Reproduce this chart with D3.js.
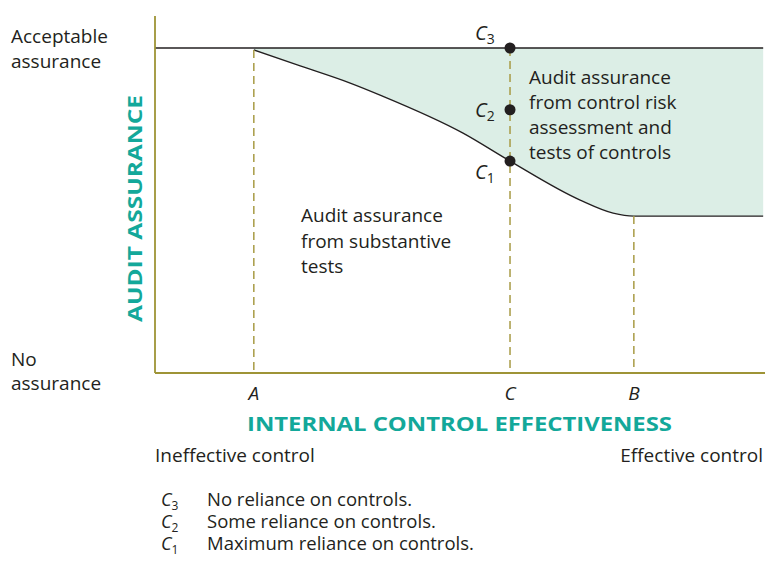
<!DOCTYPE html>
<html>
<head>
<meta charset="utf-8">
<script src="https://cdn.jsdelivr.net/npm/d3@7"></script>
<style>
  body { margin: 0; background: #fff; }
  text { font-family: "Open Sans", sans-serif; fill: #231f20; }
</style>
</head>
<body>
<svg width="765" height="569"></svg>
<script>
// effectiveness (0-100) vs. audit assurance from substantive tests (0-100)
var curveX = [16.2, 23.8, 32, 36.9, 50.5, 58.2, 69.7, 75.1, 78.5, 99.7];
var curveY = [99.4, 94.5, 89.2, 85.5, 73.8, 65.2, 53.2, 49.2, 48.3, 48.3];
var marks = ["A", "C", "B"];
var markX = [16.2, 58.2, 78.5];
var pointNames = ["3", "2", "1"];
var pointY = [100, 81, 65.2];
var legendText = ["No reliance on controls.", "Some reliance on controls.", "Maximum reliance on controls."];

var svg = d3.select("svg");
var teal = "#13a89a", olive = "#9e9436", dash = "#a89b45";
var fs = 19;

var x = d3.scaleLinear().domain([0, 100]).range([155, 765]);
var y = d3.scaleLinear().domain([0, 100]).range([373, 48]);

var pts = curveX.map(function(d, i) { return [d, curveY[i]]; });

// shaded region between the curve and acceptable assurance
var area = d3.area()
    .x(function(d) { return x(d[0]); })
    .y0(y(100))
    .y1(function(d) { return y(d[1]); })
    .curve(d3.curveMonotoneX);
svg.append("path").datum(pts).attr("d", area).attr("fill", "#dceee6");

var line = d3.line()
    .x(function(d) { return x(d[0]); })
    .y(function(d) { return y(d[1]); })
    .curve(d3.curveMonotoneX);
svg.append("path").datum(pts).attr("d", line)
    .attr("fill", "none").attr("stroke", "#231f20").attr("stroke-width", 1.3);

// top line
svg.append("line").attr("x1", x(0)).attr("x2", x(99.7))
    .attr("y1", y(100)).attr("y2", y(100))
    .attr("stroke", "#231f20").attr("stroke-width", 1.3);

// dashed verticals
var dashTop = [99.4, 100, 48.3];
svg.selectAll(".vd").data(markX).enter().append("line")
    .attr("x1", function(d) { return x(d); }).attr("x2", function(d) { return x(d); })
    .attr("y1", function(d, i) { return y(dashTop[i]); }).attr("y2", y(0))
    .attr("stroke", dash).attr("stroke-width", 1.5).attr("stroke-dasharray", "8,5");

// axes
svg.append("line").attr("x1", x(0)).attr("x2", x(0)).attr("y1", 16).attr("y2", y(0))
    .attr("stroke", olive).attr("stroke-width", 1.8);
svg.append("line").attr("x1", x(0)).attr("x2", x(100)).attr("y1", y(0)).attr("y2", y(0))
    .attr("stroke", olive).attr("stroke-width", 1.8);

svg.selectAll(".mk").data(marks).enter().append("text")
    .attr("x", function(d, i) { return x(markX[i]); }).attr("y", 400)
    .attr("text-anchor", "middle").attr("font-style", "italic").attr("font-size", fs)
    .text(function(d) { return d; });

// points on C
svg.selectAll(".pt").data(pointY).enter().append("circle")
    .attr("cx", x(58.2)).attr("cy", function(d) { return y(d); })
    .attr("r", 5.5).attr("fill", "#231f20");

function cLabel(x0, y0, n, big, small) {
  var t = svg.append("text").attr("x", x0).attr("y", y0)
      .attr("font-size", big).attr("font-style", "italic");
  t.append("tspan").text("C");
  t.append("tspan").attr("font-size", small).attr("font-style", "normal").attr("dy", 4).text(n);
}
var plab = [[475, 40], [475, 117], [475, 179]];
pointNames.forEach(function(n, i) { cLabel(plab[i][0], plab[i][1], n, 20, 14); });

function lines(x0, y0, arr, step) {
  var t = svg.append("text").attr("x", x0).attr("y", y0).attr("font-size", fs);
  arr.forEach(function(s, i) {
    t.append("tspan").attr("x", x0).attr("dy", i ? step : 0).text(s);
  });
  return t;
}
lines(529, 84, ["Audit assurance", "from control risk", "assessment and", "tests of controls"], 25);
lines(301, 222, ["Audit assurance", "from substantive", "tests"], 25.5);
lines(11, 43, ["Acceptable", "assurance"], 24.5);
lines(11, 366, ["No", "assurance"], 24);

svg.append("text").attr("x", 247).attr("y", 431)
    .attr("font-size", 20).attr("font-weight", "bold").style("fill", teal)
    .attr("textLength", 425).attr("lengthAdjust", "spacingAndGlyphs")
    .text("INTERNAL CONTROL EFFECTIVENESS");
svg.append("text").attr("transform", "translate(142,322) rotate(-90)")
    .attr("font-size", 20).attr("font-weight", "bold")
    .attr("textLength", 227).attr("lengthAdjust", "spacingAndGlyphs")
    .style("fill", teal).text("AUDIT ASSURANCE");

svg.append("text").attr("x", 155).attr("y", 462).attr("font-size", fs).text("Ineffective control");
svg.append("text").attr("x", 763).attr("y", 462).attr("text-anchor", "end")
    .attr("font-size", fs).text("Effective control");

// legend
legendText.forEach(function(s, i) {
  var yy = 506 + i * 22;
  cLabel(161, yy, pointNames[i], 18, 12);
  svg.append("text").attr("x", 207).attr("y", yy).attr("font-size", 18.5).text(s);
});
</script>
</body>
</html>
